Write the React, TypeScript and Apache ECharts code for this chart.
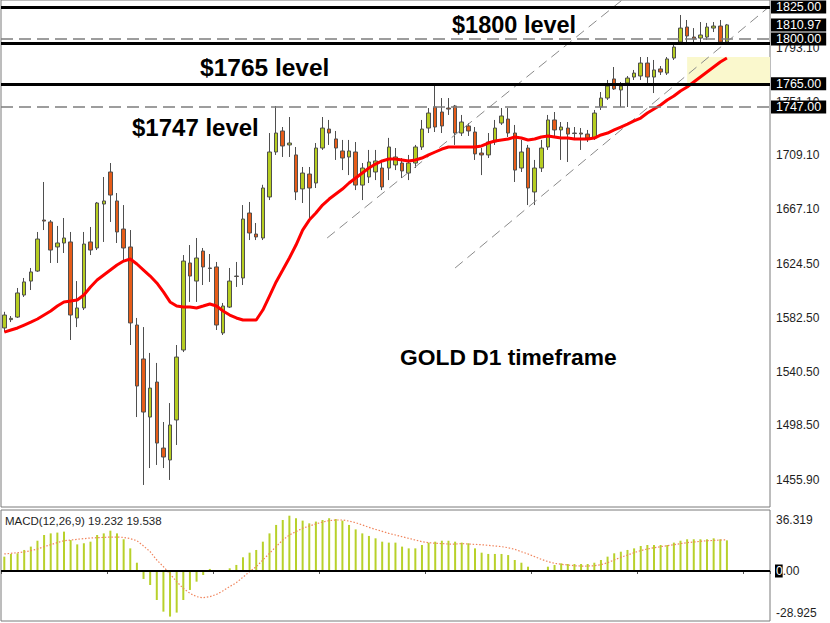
import { useEffect, useRef } from "react";
import * as echarts from "echarts";

const FONT = '"Liberation Sans", Arial, sans-serif';

const slotCount = 116;
const dayLabels = Array.from({ length: slotCount }, (_, i) => `D${i + 1}`);

const opens = [1574.5,1581.0,1583.0,1600.2,1611.1,1618.9,1658.7,1657.2,1637.7,1640.8,
1641.6,1582.3,1590.1,1641.6,1636.9,1671.2,1696.2,1673.6,1651.7,1637.7,
1576.8,1550.3,1505.0,1532.3,1480.8,1471.5,1502.7,1557.3,1625.2,1611.1,
1634.5,1621.3,1622.1,1570.6,1590.8,1615.0,1613.5,1664.2,1647.8,1644.7,
1676.7,1711.8,1728.2,1717.3,1709.5,1683.0,1694.6,1687.6,1714.9,1729.7,
1722.0,1712.6,1707.9,1711.8,1686.0,1692.3,1696.2,1699.3,1699.3,1701.7,
1703.2,1695.4,1703.2,1715.7,1730.5,1746.9,1743.0,1746.1,1747.7,1726.6,
1732.1,1727.4,1711.0,1709.5,1719.6,1734.4,1737.5,1726.6,1699.3,1714.9,
1680.6,1699.3,1715.7,1736.8,1729.0,1730.5,1726.6,1726.6,1725.8,1722.7,
1746.9,1753.9,1768.8,1760.2,1765.6,1770.3,1771.1,1781.2,1770.3,1776.6,
1773.4,1785.1,1797.6,1809.3,1801.5,1800.7,1801.5,1808.5,1810.1,1797.6];

const closes = [1584.6,1582.0,1601.8,1610.4,1618.2,1643.9,1657.9,1635.3,1640.8,1644.7,
1584.6,1590.1,1640.0,1635.3,1672.0,1673.6,1678.2,1649.4,1636.9,1578.4,
1529.2,1508.9,1527.6,1484.7,1473.8,1498.8,1551.8,1626.7,1615.0,1629.1,
1622.1,1620.9,1576.8,1591.6,1611.1,1614.7,1659.5,1648.6,1645.5,1683.7,
1711.8,1726.6,1716.5,1718.8,1680.6,1695.4,1683.7,1714.9,1730.5,1726.6,
1714.9,1707.1,1712.6,1686.0,1699.3,1704.0,1704.8,1684.5,1715.7,1707.9,
1697.0,1703.2,1715.7,1729.7,1742.2,1731.3,1732.1,1745.3,1726.6,1735.2,
1728.2,1710.3,1709.5,1719.6,1730.5,1739.9,1726.6,1697.7,1711.8,1683.7,
1699.3,1714.9,1736.8,1729.0,1731.3,1725.8,1726.2,1725.8,1722.7,1742.2,
1753.9,1763.3,1761.0,1763.3,1769.5,1773.4,1781.2,1770.3,1775.8,1774.2,
1784.4,1793.7,1808.5,1802.3,1800.0,1803.1,1809.3,1810.1,1797.6,1810.97];

const lows = [1571.3,1579.1,1582.3,1598.7,1604.1,1618.2,1650.9,1625.2,1625.2,1633.0,
1565.1,1575.2,1588.5,1631.4,1635.3,1641.6,1657.2,1640.8,1627.5,1561.2,
1505.0,1452.0,1465.2,1467.6,1465.2,1455.9,1483.2,1555.7,1594.8,1594.8,
1608.0,1610.4,1572.9,1569.0,1590.1,1606.5,1608.0,1643.1,1643.1,1643.1,
1674.3,1709.5,1707.9,1707.9,1674.3,1672.0,1660.3,1683.7,1713.4,1717.3,
1705.6,1697.7,1693.8,1682.1,1674.3,1687.6,1689.9,1682.1,1689.9,1697.7,
1691.5,1689.9,1699.3,1713.4,1726.6,1727.4,1726.6,1740.7,1717.3,1724.3,
1724.3,1705.6,1693.8,1707.1,1717.3,1732.9,1723.5,1688.4,1696.2,1670.4,
1670.4,1696.2,1713.4,1722.8,1705.6,1704.0,1721.2,1713.4,1719.6,1721.2,
1744.6,1752.4,1760.2,1746.9,1746.9,1768.0,1768.0,1764.1,1757.8,1771.9,
1771.9,1783.6,1796.8,1797.6,1797.6,1797.6,1799.2,1805.4,1796.8,1796.8];

const highs = [1587.1,1583.8,1605.7,1613.5,1621.3,1649.4,1688.4,1658.7,1654.1,1660.3,
1649.4,1611.1,1649.4,1653.3,1672.8,1692.3,1703.2,1679.8,1670.4,1650.9,
1582.3,1575.2,1555.0,1547.2,1501.1,1515.9,1561.2,1631.4,1639.2,1644.7,
1636.9,1632.2,1626.0,1594.0,1621.3,1626.0,1670.4,1672.8,1656.4,1686.2,
1726.6,1747.7,1731.3,1739.1,1715.7,1700.1,1700.1,1718.8,1739.1,1736.8,
1728.2,1721.2,1721.2,1719.6,1703.2,1713.4,1713.4,1705.6,1722.8,1714.9,
1707.1,1709.5,1717.3,1736.8,1746.1,1764.1,1753.9,1753.9,1748.5,1740.7,
1734.4,1731.3,1714.9,1726.6,1736.8,1746.1,1746.1,1732.9,1721.2,1717.3,
1705.6,1721.2,1740.7,1743.0,1735.2,1735.2,1731.3,1730.5,1729.0,1744.6,
1758.6,1768.0,1778.1,1766.4,1771.1,1775.8,1785.9,1785.9,1783.6,1778.9,
1785.9,1796.8,1818.7,1814.8,1808.5,1813.2,1812.5,1813.2,1814.8,1811.7];

const ma20 = [1571.3,1572.9,1574.5,1576.8,1579.1,1581.5,1584.6,1587.7,1591.6,1594.8,
1595.5,1596.3,1600.2,1606.5,1611.9,1615.8,1619.7,1623.6,1626.7,1628.3,
1624.4,1619.7,1615.0,1609.6,1602.6,1594.8,1591.6,1590.8,1590.8,1590.1,
1591.6,1593.2,1591.6,1587.7,1584.6,1582.3,1580.7,1580.7,1580.7,1588.5,
1599.4,1610.4,1619.7,1629.1,1639.2,1650.9,1658.7,1664.2,1670.4,1675.1,
1679.0,1682.9,1687.6,1691.5,1695.4,1699.3,1702.4,1704.8,1706.3,1706.3,
1705.6,1704.8,1705.6,1707.1,1709.5,1711.8,1714.1,1715.7,1715.7,1715.7,
1715.7,1715.7,1716.5,1718.8,1720.4,1721.2,1721.9,1723.5,1722.7,1721.2,
1721.9,1723.5,1724.3,1723.5,1722.7,1722.7,1721.9,1721.9,1721.9,1722.7,
1725.1,1726.6,1729.0,1731.3,1733.6,1736.0,1738.3,1742.2,1745.3,1748.5,
1752.4,1755.5,1759.4,1762.5,1766.4,1770.3,1774.2,1778.1,1782.0,1785.1];

const macdHist = [9.0,10.7,11.1,13.2,15.3,19.0,22.6,23.6,24.1,24.7,
19.4,16.7,17.4,18.4,22.6,23.6,25.3,23.6,19.9,14.2,
5.2,-5.0,-8.8,-18.2,-25.5,-28.6,-26.1,-18.2,-11.9,-6.7,
-2.5,1.3,0.6,0.6,1.7,3.8,8.6,11.5,13.2,18.4,
23.6,28.9,32.0,34.7,33.1,31.6,29.9,31.0,32.0,33.1,
32.6,31.6,28.9,26.1,23.6,22.0,20.5,18.4,17.8,17.8,
15.3,14.2,14.2,16.3,17.8,18.4,19.0,19.0,18.4,17.8,
17.4,14.2,11.5,10.7,10.7,10.7,10.0,6.9,5.2,2.7,
0.6,0.6,2.7,3.8,4.8,4.4,4.4,4.4,4.4,5.2,
6.9,9.0,11.1,12.1,13.2,14.2,15.7,16.3,16.3,16.3,
16.3,17.8,19.0,19.9,19.9,19.9,19.9,20.5,19.9,19.232];

const macdSignal = [10.7,11.1,11.5,11.9,12.8,13.8,15.3,16.5,17.8,19.0,
19.4,19.9,20.3,20.7,20.9,21.1,21.3,21.3,21.1,20.3,
19.0,15.7,12.1,6.9,2.7,-1.9,-6.7,-10.9,-14.0,-16.1,
-16.8,-16.1,-14.7,-12.4,-9.8,-7.3,-3.9,-0.4,2.7,6.9,
11.1,15.3,19.4,22.6,24.7,26.8,28.2,29.5,30.7,31.6,
32.0,32.0,31.3,30.3,28.9,27.4,26.1,24.9,23.6,22.6,
21.5,20.5,19.4,18.4,17.8,17.4,17.2,16.9,16.9,17.2,
16.9,16.7,16.5,16.1,15.7,15.3,14.6,13.6,12.1,10.7,
9.0,7.3,5.9,4.8,4.2,3.8,3.3,3.1,3.1,3.3,
4.0,5.2,6.9,8.6,10.0,11.5,12.8,13.8,14.6,15.3,
15.9,16.5,17.2,17.8,18.2,18.6,19.0,19.2,19.4,19.538];

const priceTicks = [1455.9, 1498.5, 1540.5, 1582.5, 1624.5, 1667.1, 1709.1, 1751.1, 1793.1];
const solidLevels = [1825, 1796.5, 1765];
const dashedLevels = [1800, 1747];
const boxedLevels = [1825, 1800, 1765, 1747];
const lastPrice = 1810.97;
const channelA = [[48.7, 1644.7], [93.2, 1830.4]];
const channelB = [[68.0, 1621.3], [115.5, 1825.7]];
const zoneSlots = [103, 115.5];
const zonePrices = [1786, 1765];
const priceRange = [1434.8, 1830.4];
const macdRange = [-31.37, 38.27];
const macdScaleLabels = [36.319, -28.925];
const macdParams = "MACD(12,26,9) 19.232 19.538";

const BULL = "#b6cd21";
const BEAR = "#e65c18";
const HIDDEN_LINE = { color: "rgba(255,255,255,0)", width: 0, opacity: 1 };

const boxLabel = (text: string) => ({
  show: true,
  position: "end",
  distance: 1,
  formatter: text,
  backgroundColor: "#000",
  color: "#fff",
  padding: [1, 5, 0, 5],
  fontSize: 12.5,
  lineHeight: 12,
  fontFamily: FONT,
});

export default function App() {
  const ref = useRef<HTMLDivElement>(null);
  useEffect(() => {
    const chart = echarts.init(ref.current!, null, { renderer: "svg" });
    const option: any = {
      animation: false,
      backgroundColor: "#fff",
      grid: [
        { left: 1, top: 0, width: 769, height: 507, show: true, borderColor: "#7a7a7a", borderWidth: 1, backgroundColor: "transparent" },
        { left: 1, top: 510, width: 769, height: 111, show: true, borderColor: "#7a7a7a", borderWidth: 1, backgroundColor: "transparent" },
      ],
      xAxis: [
        { type: "category", gridIndex: 0, data: dayLabels, boundaryGap: true, axisLine: { show: false }, axisTick: { show: false }, axisLabel: { show: false }, splitLine: { show: false } },
        { type: "value", gridIndex: 0, min: -0.5, max: slotCount - 0.5, show: false },
        { type: "category", gridIndex: 1, data: dayLabels, boundaryGap: true, axisLine: { show: false }, axisTick: { show: true, interval: 15, length: 3, lineStyle: { color: "#555" } }, axisLabel: { show: false }, splitLine: { show: false } },
      ],
      yAxis: [
        { type: "value", gridIndex: 0, min: priceRange[0], max: priceRange[1], position: "right", axisLine: { show: false }, axisTick: { show: false }, axisLabel: { show: false }, splitLine: { show: false } },
        { type: "value", gridIndex: 1, min: macdRange[0], max: macdRange[1], position: "right", axisLine: { show: false }, axisTick: { show: false }, axisLabel: { show: false }, splitLine: { show: false } },
      ],
      series: [
        {
          type: "candlestick",
          name: "GOLD",
          xAxisIndex: 0,
          yAxisIndex: 0,
          z: 2,
          barWidth: 4,
          data: opens.map((o, i) => [o, closes[i], lows[i], highs[i]]),
          itemStyle: { color: BULL, color0: BEAR, borderColor: "#4f4f4f", borderColor0: "#4f4f4f", borderWidth: 1 },
          markLine: {
            silent: true,
            symbol: "none",
            lineStyle: HIDDEN_LINE,
            data: priceTicks.map((v) => ({
              yAxis: v,
              lineStyle: HIDDEN_LINE,
              label: { show: true, position: "end", distance: 6, formatter: v.toFixed(2), color: "#1e1e1e", fontSize: 12, fontFamily: FONT, opacity: 1 },
            })),
          },
        },
        {
          type: "line",
          name: "channelA",
          xAxisIndex: 1,
          yAxisIndex: 0,
          z: 3,
          data: channelA,
          symbol: "none",
          silent: true,
          lineStyle: { color: "#8a8a8a", width: 1, type: [10, 6] },
        },
        {
          type: "line",
          name: "channelB",
          xAxisIndex: 1,
          yAxisIndex: 0,
          z: 3,
          data: channelB,
          symbol: "none",
          silent: true,
          lineStyle: { color: "#8a8a8a", width: 1, type: [10, 6] },
          markArea: {
            silent: true,
            itemStyle: { color: "#faf8cd", opacity: 1 },
            data: [[{ xAxis: zoneSlots[0], yAxis: zonePrices[0] }, { xAxis: zoneSlots[1], yAxis: zonePrices[1] }]],
          },
        },
        {
          type: "line",
          name: "MA",
          xAxisIndex: 0,
          yAxisIndex: 0,
          z: 4,
          data: ma20,
          symbol: "none",
          showSymbol: false,
          silent: true,
          lineStyle: { color: "#ff0000", width: 3 },
        },
        {
          type: "line",
          name: "levels",
          xAxisIndex: 1,
          yAxisIndex: 0,
          z: 5,
          data: [],
          silent: true,
          markLine: {
            silent: true,
            symbol: "none",
            data: [
              ...solidLevels.map((v) => ({
                yAxis: v,
                lineStyle: { color: "#000", width: 3, type: "solid" },
                label: boxedLevels.includes(v) ? boxLabel(v.toFixed(2)) : { show: false },
              })),
              ...dashedLevels.map((v) => ({
                yAxis: v,
                lineStyle: { color: "#7d7d7d", width: 1.5, type: [12, 6] },
                label: boxLabel(v.toFixed(2)),
              })),
              { yAxis: lastPrice, lineStyle: HIDDEN_LINE, label: { ...boxLabel(lastPrice.toFixed(2)), opacity: 1 } },
            ],
          },
        },
        {
          type: "bar",
          name: "MACD",
          xAxisIndex: 2,
          yAxisIndex: 1,
          z: 2,
          barWidth: 2,
          data: macdHist,
          itemStyle: { color: "#b8d12a" },
          silent: true,
          markLine: {
            silent: true,
            symbol: "none",
            data: [
              {
                yAxis: 0,
                lineStyle: { color: "#000", width: 2, type: "solid" },
                label: {
                  show: true,
                  position: "end",
                  distance: 5,
                  formatter: "{b|0}{n|.00}",
                  rich: {
                    b: { backgroundColor: "#000", color: "#fff", fontSize: 12, fontFamily: FONT, padding: [1, 0, 0, 1] },
                    n: { color: "#1e1e1e", fontSize: 12, fontFamily: FONT },
                  },
                },
              },
            ],
          },
        },
        {
          type: "line",
          name: "Signal",
          xAxisIndex: 2,
          yAxisIndex: 1,
          z: 3,
          data: macdSignal,
          symbol: "none",
          showSymbol: false,
          silent: true,
          lineStyle: { color: "#f0845c", width: 1.2, type: [1.5, 1.8] },
        },
      ],
    };
    chart.setOption(option);

    const yTop = chart.convertToPixel({ yAxisIndex: 1 }, macdScaleLabels[0]) as number;
    const yBot = chart.convertToPixel({ yAxisIndex: 1 }, macdScaleLabels[1]) as number;
    const titleFont = (px: number) => `bold ${px}px ${FONT}`;
    chart.setOption({
      graphic: [
        { type: "text", x: 452, y: 25, silent: true, style: { text: "$1800 level", font: titleFont(23.5), fill: "#000", align: "left", verticalAlign: "middle" } },
        { type: "text", x: 200, y: 67, silent: true, style: { text: "$1765 level", font: titleFont(24.5), fill: "#000", align: "left", verticalAlign: "middle" } },
        { type: "text", x: 132, y: 127, silent: true, style: { text: "$1747 level", font: titleFont(24), fill: "#000", align: "left", verticalAlign: "middle" } },
        { type: "text", x: 400, y: 357, silent: true, style: { text: "GOLD D1 timeframe", font: titleFont(22.8), fill: "#000", align: "left", verticalAlign: "middle" } },
        { type: "text", x: 5, y: 521, silent: true, style: { text: macdParams, font: `11.5px ${FONT}`, fill: "#1e1e1e", align: "left", verticalAlign: "middle" } },
        { type: "text", x: 776, y: yTop + 1, silent: true, style: { text: macdScaleLabels[0].toFixed(3), font: `12px ${FONT}`, fill: "#1e1e1e", align: "left", verticalAlign: "top" } },
        { type: "text", x: 776, y: yBot + 2, silent: true, style: { text: macdScaleLabels[1].toFixed(3), font: `12px ${FONT}`, fill: "#1e1e1e", align: "left", verticalAlign: "bottom" } },
      ],
    });
    return () => chart.dispose();
  }, []);
  return <div ref={ref} style={{ position: "fixed", left: 0, top: 0, width: 830, height: 623, background: "#fff" }} />;
}
